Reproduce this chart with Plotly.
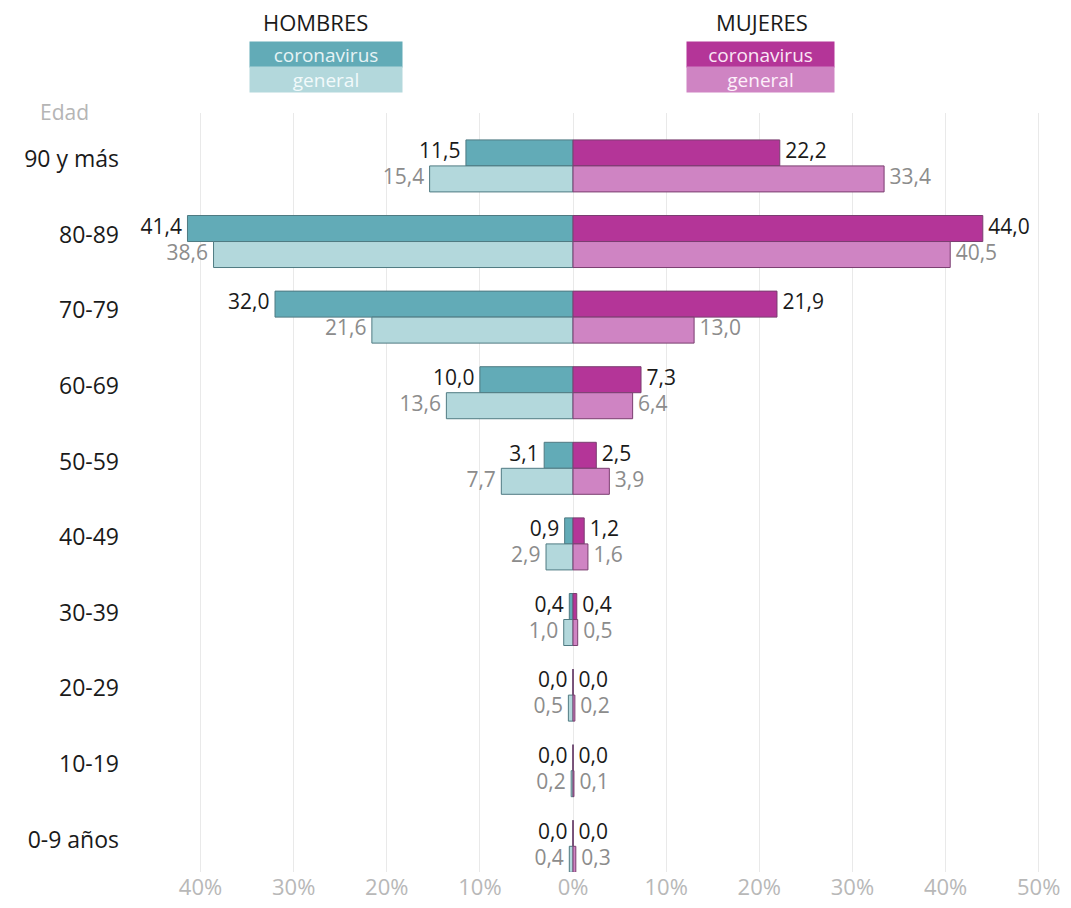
import plotly.graph_objects as go

categories = ["90 y más", "80-89", "70-79", "60-69", "50-59", "40-49", "30-39", "20-29", "10-19", "0-9 años"]
hombres_coronavirus = [11.5, 41.4, 32.0, 10.0, 3.1, 0.9, 0.4, 0.0, 0.0, 0.0]
hombres_general = [15.4, 38.6, 21.6, 13.6, 7.7, 2.9, 1.0, 0.5, 0.2, 0.4]
mujeres_coronavirus = [22.2, 44.0, 21.9, 7.3, 2.5, 1.2, 0.4, 0.0, 0.0, 0.0]
mujeres_general = [33.4, 40.5, 13.0, 6.4, 3.9, 1.6, 0.5, 0.2, 0.1, 0.3]
x_ticks = [-40, -30, -20, -10, 0, 10, 20, 30, 40, 50]
x_ticktext = ["40%", "30%", "20%", "10%", "0%", "10%", "20%", "30%", "40%", "50%"]

FONT = "Open Sans"
C_H_COR = "#62abb7"
C_H_GEN = "#b3d8dc"
C_M_COR = "#b43598"
C_M_GEN = "#cf84c3"
LINE_H = "#4f7a82"
LINE_M = "#7a3e70"
TXT_DARK = "#1a1a1a"
TXT_GRAY = "#8c8c8c"

rows = list(range(len(categories)))
OFF = 0.172
W = 0.344
y_cor = [r - OFF for r in rows]
y_gen = [r + OFF for r in rows]


def fmt(v):
    return f"{v:.1f}".replace(".", ",")


fig = go.Figure()

fig.add_trace(go.Bar(y=y_cor, x=[-v for v in hombres_coronavirus], orientation="h", width=W,
                     marker=dict(color=C_H_COR, line=dict(color=LINE_H, width=1)), hoverinfo="skip"))
fig.add_trace(go.Bar(y=y_gen, x=[-v for v in hombres_general], orientation="h", width=W,
                     marker=dict(color=C_H_GEN, line=dict(color=LINE_H, width=1)), hoverinfo="skip"))
fig.add_trace(go.Bar(y=y_cor, x=mujeres_coronavirus, orientation="h", width=W,
                     marker=dict(color=C_M_COR, line=dict(color=LINE_M, width=1)), hoverinfo="skip"))
fig.add_trace(go.Bar(y=y_gen, x=mujeres_general, orientation="h", width=W,
                     marker=dict(color=C_M_GEN, line=dict(color=LINE_M, width=1)), hoverinfo="skip"))

VSIZE = 21
fig.add_trace(go.Scatter(y=y_cor, x=[-v for v in hombres_coronavirus], mode="text",
                         text=[fmt(v) + " " for v in hombres_coronavirus], textposition="middle left",
                         textfont=dict(family=FONT, size=VSIZE, color=TXT_DARK), hoverinfo="skip"))
fig.add_trace(go.Scatter(y=y_gen, x=[-v for v in hombres_general], mode="text",
                         text=[fmt(v) + " " for v in hombres_general], textposition="middle left",
                         textfont=dict(family=FONT, size=VSIZE, color=TXT_GRAY), hoverinfo="skip"))
fig.add_trace(go.Scatter(y=y_cor, x=mujeres_coronavirus, mode="text",
                         text=[" " + fmt(v) for v in mujeres_coronavirus], textposition="middle right",
                         textfont=dict(family=FONT, size=VSIZE, color=TXT_DARK), hoverinfo="skip"))
fig.add_trace(go.Scatter(y=y_gen, x=mujeres_general, mode="text",
                         text=[" " + fmt(v) for v in mujeres_general], textposition="middle right",
                         textfont=dict(family=FONT, size=VSIZE, color=TXT_GRAY), hoverinfo="skip"))

# plot area (in figure px): y from 105 to 864 -> height 759
def py(px):
    return (864 - px) / 759.0

ann_common = dict(xref="x", yref="paper", showarrow=False, xanchor="center", yanchor="middle")
annotations = [
    dict(text="HOMBRES", x=-27.7, y=py(14), font=dict(family=FONT, size=22, color="#1a1a1a"), **ann_common),
    dict(text="MUJERES", x=20.3, y=py(14), font=dict(family=FONT, size=22, color="#1a1a1a"), **ann_common),
    dict(text="coronavirus", x=-26.5, y=py(46.5), width=152, height=25, bgcolor=C_H_COR, borderpad=0,
         font=dict(family=FONT, size=19, color="#e6f3f5"), **ann_common),
    dict(text="general", x=-26.5, y=py(71.5), width=152, height=25, bgcolor=C_H_GEN, borderpad=0,
         font=dict(family=FONT, size=19, color="#f2fafb"), **ann_common),
    dict(text="coronavirus", x=20.1, y=py(46.5), width=147, height=25, bgcolor=C_M_COR, borderpad=0,
         font=dict(family=FONT, size=19, color="#fbe6f5"), **ann_common),
    dict(text="general", x=20.1, y=py(71.5), width=147, height=25, bgcolor=C_M_GEN, borderpad=0,
         font=dict(family=FONT, size=19, color="#fdf0fa"), **ann_common),
    dict(text="Edad", x=(57 - 118) / 922.0, y=py(104), xref="paper", yref="paper", showarrow=False,
         xanchor="center", yanchor="middle", font=dict(family=FONT, size=21, color="#b5b5b5")),
]

fig.update_layout(
    width=1071, height=908,
    margin=dict(l=118, r=31, t=105, b=44),
    barmode="overlay",
    showlegend=False,
    plot_bgcolor="white",
    paper_bgcolor="white",
    font=dict(family=FONT),
    annotations=annotations,
    xaxis=dict(range=[-48, 51], tickvals=x_ticks, ticktext=x_ticktext, showgrid=True,
               gridcolor="#e9e9e9", gridwidth=1, zeroline=False, showline=False, ticks="",
               tickfont=dict(family=FONT, size=22, color="#b8b8b8"), fixedrange=True),
    yaxis=dict(range=[9.34, -0.70], tickvals=[r - 0.09 for r in rows], ticktext=categories,
               showgrid=False, zeroline=False, showline=False, ticks="", ticklabelstandoff=6,
               tickfont=dict(family=FONT, size=23, color="#1a1a1a"), fixedrange=True),
)

fig.write_html("out.html")
